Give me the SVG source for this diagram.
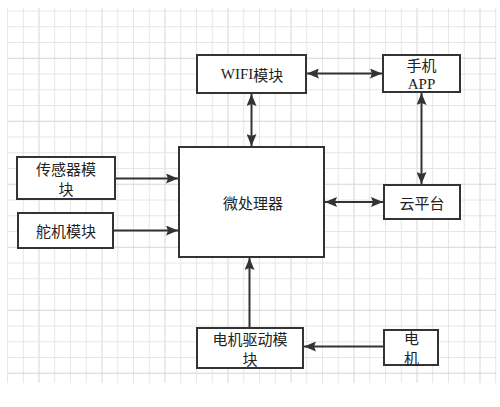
<svg xmlns="http://www.w3.org/2000/svg" width="500" height="407" viewBox="0 0 500 407">
<style>
.minor{stroke:#e6e6e6;stroke-width:1;fill:none}
.major{stroke:#d6d6d6;stroke-width:1;fill:none}
.box{fill:#ffffff;stroke:#333333;stroke-width:2}
.t{font-family:"Noto Sans CJK SC","Liberation Sans",sans-serif;font-size:15px;fill:#222222;text-anchor:middle;dominant-baseline:central}
.lat{font-family:"Liberation Serif","Noto Sans CJK SC",serif}
.c{stroke:#333333;stroke-width:2;fill:none}
</style>
<defs>
<marker id="ah" markerUnits="userSpaceOnUse" markerWidth="13" markerHeight="10" refX="12" refY="5" orient="auto-start-reverse" viewBox="0 0 13 10">
<path d="M0,0 L12,5 L0,10 L2,5 Z" fill="#333333"/>
</marker>
</defs>
<rect width="500" height="407" fill="#ffffff"/>
<g id="grid">
<path class="minor" d="M7.5 8V383M23.25 8V383M54.75 8V383M70.5 8V383M86.25 8V383M117.75 8V383M133.5 8V383M149.25 8V383M180.75 8V383M196.5 8V383M212.25 8V383M243.75 8V383M259.5 8V383M275.25 8V383M306.75 8V383M322.5 8V383M338.25 8V383M369.75 8V383M385.5 8V383M401.25 8V383M432.75 8V383M448.5 8V383M464.25 8V383M495.75 8V383"/>
<path class="major" d="M39 8V383M102 8V383M165 8V383M228 8V383M291 8V383M354 8V383M417 8V383M480 8V383"/>
<path class="minor" d="M8 11H496M8 26.75H496M8 42.5H496M8 74H496M8 89.75H496M8 105.5H496M8 137H496M8 152.75H496M8 168.5H496M8 200H496M8 215.75H496M8 231.5H496M8 263H496M8 278.75H496M8 294.5H496M8 326H496M8 341.75H496M8 357.5H496"/>
<path class="major" d="M8 58.25H496M8 121.25H496M8 184.25H496M8 247.25H496M8 310.25H496M8 373.25H496"/>
</g>
<g id="connectors">
<line class="c" x1="307" y1="73.5" x2="382" y2="73.5" marker-start="url(#ah)" marker-end="url(#ah)"/>
<line class="c" x1="251.5" y1="94" x2="251.5" y2="146" marker-start="url(#ah)" marker-end="url(#ah)"/>
<line class="c" x1="421.5" y1="93" x2="421.5" y2="184" marker-start="url(#ah)" marker-end="url(#ah)"/>
<line class="c" x1="325" y1="202" x2="383" y2="202" marker-start="url(#ah)" marker-end="url(#ah)"/>
<line class="c" x1="116" y1="178.5" x2="178" y2="178.5" marker-end="url(#ah)"/>
<line class="c" x1="114" y1="230.5" x2="178" y2="230.5" marker-end="url(#ah)"/>
<line class="c" x1="249.5" y1="327" x2="249.5" y2="258" marker-end="url(#ah)"/>
<line class="c" x1="383" y1="346.5" x2="304" y2="346.5" marker-end="url(#ah)"/>
</g>
<g id="wifi">
<rect class="box" x="197" y="55" width="109" height="38"/>
<text class="t" x="252" y="74"><tspan class="lat">WIFI</tspan>模块</text>
</g>
<g id="phone">
<rect class="box" x="383" y="55" width="77" height="37"/>
<text class="t" x="421.5" y="64.5">手机</text>
<text class="t lat" x="421.5" y="84">APP</text>
</g>
<g id="mcu">
<rect class="box" x="179" y="147" width="145" height="110"/>
<text class="t" x="253" y="202">微处理器</text>
</g>
<g id="cloud">
<rect class="box" x="384" y="185" width="76" height="34"/>
<text class="t" x="422" y="202">云平台</text>
</g>
<g id="sensor">
<rect class="box" x="17" y="157" width="98" height="42"/>
<text class="t" x="66" y="168">传感器模</text>
<text class="t" x="66" y="188">块</text>
</g>
<g id="servo">
<rect class="box" x="18" y="213" width="95" height="35"/>
<text class="t" x="66" y="230.5">舵机模块</text>
</g>
<g id="driver">
<rect class="box" x="197" y="328" width="106" height="40"/>
<text class="t" x="250" y="338">电机驱动模</text>
<text class="t" x="250" y="358">块</text>
</g>
<g id="motor">
<rect class="box" x="384" y="330" width="54" height="35"/>
<text class="t" x="411.5" y="337.5">电</text>
<text class="t" x="411.5" y="357.5">机</text>
</g>
</svg>
